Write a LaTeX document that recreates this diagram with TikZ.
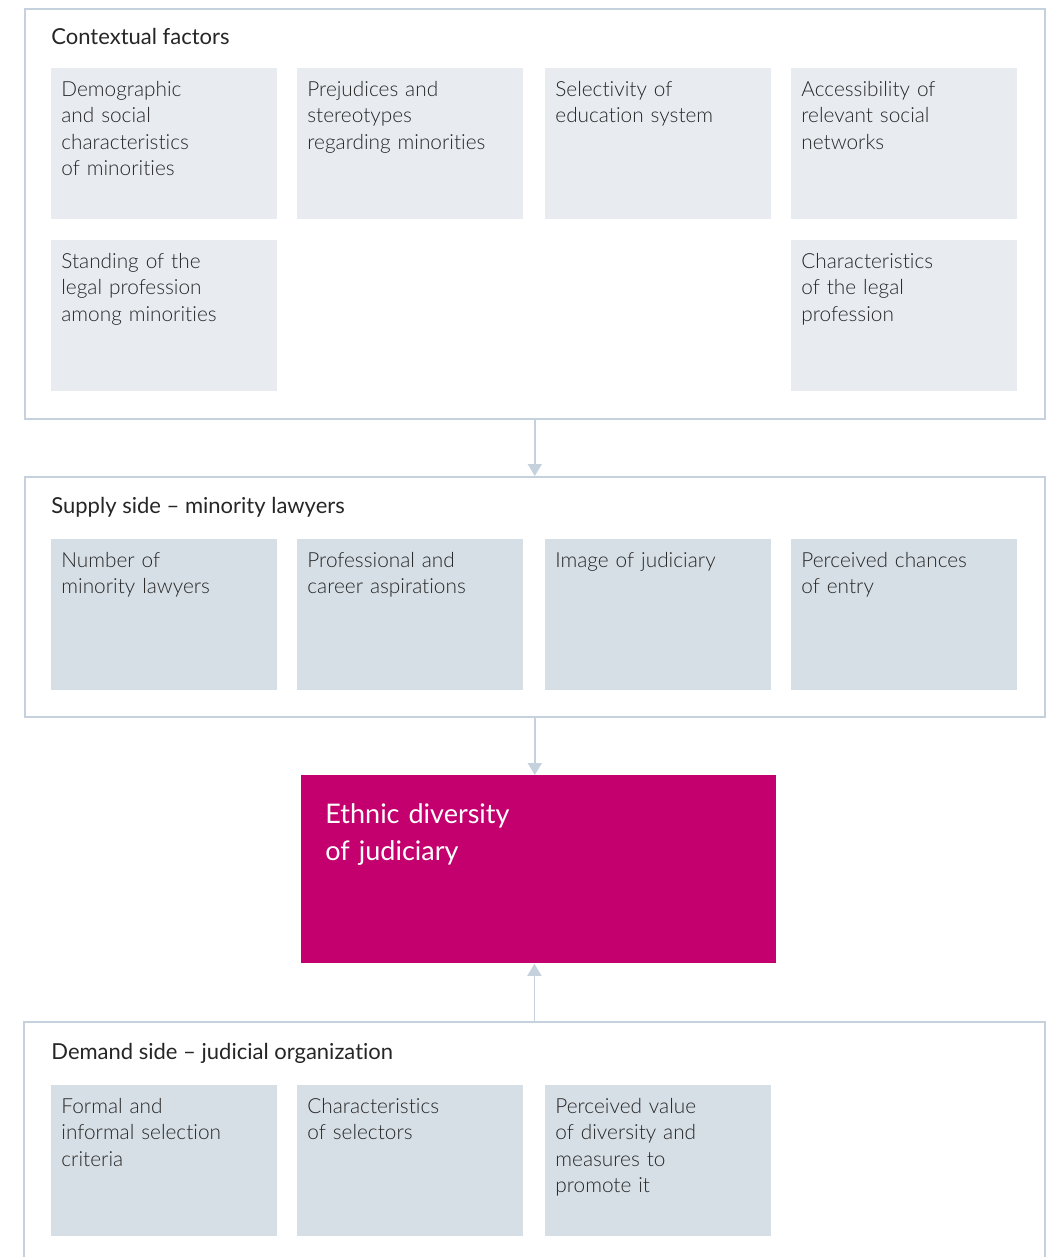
\documentclass[tikz,border=0pt]{standalone}
\usepackage{fontspec}
\setmainfont{Lato}[Ligatures=NoCommon]
\newfontfamily\lightfont{Lato Light}[Ligatures=NoCommon]
\usetikzlibrary{arrows.meta}
\definecolor{framegrey}{RGB}{197,210,222}
\definecolor{ctxfill}{RGB}{232,236,241}
\definecolor{sidefill}{RGB}{215,223,230}
\definecolor{jmagenta}{RGB}{196,0,110}
\definecolor{textgrey}{RGB}{38,38,38}
\tikzset{
  frame/.style={draw=framegrey, line width=0.8pt, anchor=north west, inner sep=0pt, minimum width=510pt},
  factor/.style={fill=#1, anchor=north west, inner xsep=5pt, inner ysep=0pt, text width=103pt,
    text height=14pt, text depth=61.5pt, align=left, text=textgrey,
    font=\lightfont\fontsize{10.4}{13.2}\selectfont},
  heading/.style={anchor=base west, inner sep=0pt, text=textgrey, font=\fontsize{11}{13}\selectfont},
  link/.style={draw=framegrey, line width=0.8pt, -{Triangle[width=7pt,length=6pt]}},
}
\begin{document}
\begin{tikzpicture}[x=0.5pt,y=-0.5pt]
\useasboundingbox[fill=white] (0,0) rectangle (1046,1257);
% contextual factors
\node[frame, minimum height=205pt] (ctx) at (24,8) {};
\node[heading] (ctxhead) at (51,45) {Contextual factors};
\node[factor=ctxfill] (demog) at (51,68) {Demographic\\and social\\characteristics\\of minorities};
\node[factor=ctxfill] (prej) at (297,68) {Prejudices and\\stereotypes\\regarding minorities};
\node[factor=ctxfill] (select) at (545,68) {Selectivity of\\education system};
\node[factor=ctxfill] (access) at (791,68) {Accessibility of\\relevant social\\networks};
\node[factor=ctxfill] (standing) at (51,240) {Standing of the\\legal profession\\among minorities};
\node[factor=ctxfill] (legal) at (791,240) {Characteristics\\of the legal\\profession};
% supply side
\node[frame, minimum height=120pt] (sup) at (24,476) {};
\node[heading] (suphead) at (51,513) {Supply side -- minority lawyers};
\node[factor=sidefill] (number) at (51,539) {Number of\\minority lawyers};
\node[factor=sidefill] (career) at (297,539) {Professional and\\career aspirations};
\node[factor=sidefill] (image) at (545,539) {Image of judiciary};
\node[factor=sidefill] (chances) at (791,539) {Perceived chances\\of entry};
% outcome
\node[anchor=north west, fill=jmagenta, inner xsep=12pt, inner ysep=0pt, text width=213.5pt,
  text height=24pt, text depth=70pt, align=left, text=white,
  font=\fontsize{13.5}{18.5}\selectfont] (eth) at (301,775) {Ethnic diversity\\of judiciary};
% demand side
\node[anchor=north west, inner sep=0pt, minimum width=510pt, minimum height=120pt] (dem) at (24,1022) {};
\draw[framegrey, line width=0.8pt] (dem.south west) -- (dem.north west) -- (dem.north east) -- (dem.south east);
\node[heading] (demhead) at (51,1059) {Demand side -- judicial organization};
\node[factor=sidefill] (criteria) at (51,1085) {Formal and\\informal selection\\criteria};
\node[factor=sidefill] (selectors) at (297,1085) {Characteristics\\of selectors};
\node[factor=sidefill] (value) at (545,1085) {Perceived value\\of diversity and\\measures to\\promote it};
% links
\draw[link] (ctx.south) -- (sup.north);
\draw[link] (sup.south) -- (sup.south |- eth.north);
\draw[link] (dem.north) -- (dem.north |- eth.south);
\end{tikzpicture}
\end{document}
